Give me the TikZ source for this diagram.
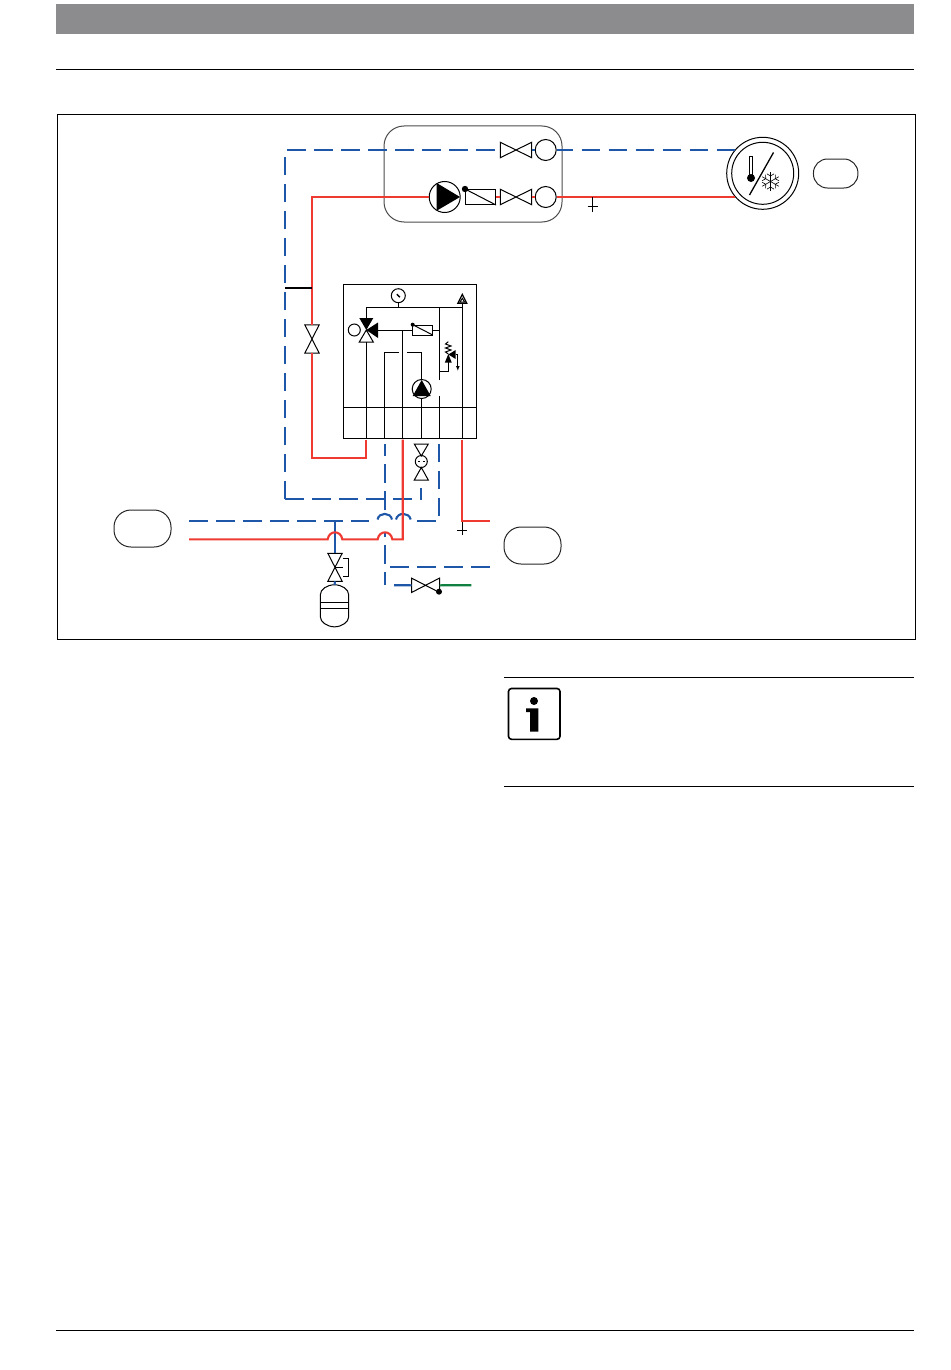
\documentclass[tikz,border=0pt]{standalone}
\usepackage{xcolor}
\usetikzlibrary{arrows.meta,calc}
\definecolor{pipeblue}{HTML}{1F57A8}
\definecolor{pipered}{HTML}{EF3A32}
\definecolor{pipegreen}{HTML}{0F8040}
\definecolor{headgray}{HTML}{8C8C8E}
\tikzset{
  thin line/.style={black,line width=1pt},
  bluepipe/.style={pipeblue,line width=2.1pt},
  bluedash/.style={bluepipe,dash pattern=on 18.5pt off 8.5pt},
  redpipe/.style={pipered,line width=2.1pt},
  roundtag/.style={draw=black!85,line width=1pt,rounded corners=#1,inner sep=0pt},
  ring/.style={circle,draw,line width=1pt,inner sep=0pt,minimum size=#1},
  slot/.style={rectangle,draw,line width=1pt,inner sep=0pt,minimum width=30pt,minimum height=15pt},
  hvalve/.style={rectangle,inner sep=0pt,minimum width=31pt,minimum height=15pt},
  vvalve/.style={rectangle,inner sep=0pt,minimum width=14pt,minimum height=28pt},
}
\begin{document}
\begin{tikzpicture}[x=1pt,y=-1pt]
\useasboundingbox (0,0) rectangle (950,1370);

% Page header and footer
\fill[headgray] (56,4) rectangle (914,34);
\draw[thin line] (56,69.5) -- (914,69.5);
\draw[thin line] (56,1330.5) -- (914,1330.5);
\draw[thin line] (57.5,114.5) rectangle (915.5,639.5);

% Boxes without text
\node[roundtag=14pt,minimum width=44.5pt,minimum height=29pt] (tagthermo) at (835.7,173.5) {};
\node[roundtag=17pt,minimum width=57pt,minimum height=37pt] (tagleft) at (142.5,528.5) {};
\node[roundtag=17pt,minimum width=57pt,minimum height=37pt] (tagright) at (532.5,545.5) {};
\node[draw=black!70,line width=1pt,rounded corners=20pt,inner sep=0pt,minimum width=178pt,minimum height=96pt] (unitbox) at (473,174) {};

% Upper unit
\node[hvalve] (retvalve) at (516,150) {};
\node[hvalve] (flowvalve) at (516,197) {};
\node[ring=21pt] (retring) at (545.7,150) {};
\node[ring=21pt] (flowring) at (545.7,197) {};
\node[ring=31pt] (mainpump) at (444.7,197) {};
\node[slot] (mainflow) at (480.5,197) {};
\fill (436.7,183) -- (460,197) -- (436.7,210.7) -- cycle;
\draw[thin line] (mainflow.north west) -- (mainflow.south east);
\fill (465,189) circle (3.2);

% Thermostat
\node[ring=72pt] (thermo) at (762.7,173.3) {};
\node[ring=62pt] (thermoin) at (762.7,173.3) {};
\draw[line width=1.3pt] (773.5,152.5) -- (749.5,195);
\draw[line width=1.2pt] (749.7,176) -- (749.7,156.5) -- (752.3,156.5) -- (752.3,176);
\fill (751,178) circle (4);
\foreach \a in {90,30,-30} {
  \draw[line width=0.6pt,shift={(770.5,181.5)}] (\a:9.5) -- (\a+180:9.5);
  \draw[line width=0.6pt,shift={(770.5,181.5)}] (\a:5.5) -- (\a+25:8.5) (\a:5.5) -- (\a-25:8.5);
  \draw[line width=0.6pt,shift={(770.5,181.5)}] (\a+180:5.5) -- (\a+205:8.5) (\a+180:5.5) -- (\a+155:8.5);
}

% Valves on the pipes
\node[vvalve] (bypassvalve) at (312,339) {};
\node[vvalve] (fillvalvelow) at (421.3,473.5) {};
\node[ring=12pt,fill=white] (fillcock) at (421.3,461.5) {};
\node[vvalve,minimum height=27.7pt] (vesselvalve) at (335,567.3) {};
\node[hvalve,minimum width=27.6pt,minimum height=14pt] (drainvalve) at (425.5,585.3) {};
\node[inner sep=0pt,minimum width=28.4pt,minimum height=41.7pt] (vessel) at (334.5,605.8) {};
\draw[thin line] (vessel.north) .. controls (342,585) and (348.7,589) .. (348.7,595)
  -- (348.7,616.7) .. controls (348.7,622) and (342,626.7) .. (vessel.south)
  .. controls (327,626.7) and (320.3,622) .. (320.3,616.7)
  -- (320.3,595) .. controls (320.3,589) and (327,585) .. (vessel.north);
\coordinate (vessela) at (320.3,602.7);
\coordinate (vesselb) at (348.7,602.7);
\coordinate (vesselc) at (320.3,608.5);
\coordinate (vesseld) at (348.7,608.5);
\draw[thin line] (vessela) -- (vesselb) (vesselc) -- (vesseld);
\foreach \v in {retvalve,flowvalve,drainvalve} {
  \draw[thin line] (\v.north west) -- (\v.south east) -- (\v.north east) -- (\v.south west) -- cycle;
}
\foreach \v in {bypassvalve,vesselvalve} {
  \draw[thin line] (\v.north west) -- (\v.north east) -- (\v.south west) -- (\v.south east) -- cycle;
}
\draw[thin line] (414.3,444) -- (428.3,444) -- (421.3,456) -- cycle;
\draw[thin line] (414.3,480) -- (428.3,480) -- (421.3,467.5) -- cycle;
\draw[line width=1pt] (418,461.5) -- (420,461.5) (422.6,461.5) -- (424.6,461.5);
\fill (439,591.7) circle (3);
\draw[thin line] (335,567.3) -- (343.3,567.3);
\draw[thin line] (343.3,558.3) -- (348.3,558.3) -- (348.3,576.3) -- (343.3,576.3);

% Heat interface block
\node[draw,line width=1pt,inner sep=0pt,minimum width=132.5pt,minimum height=154.2pt] (block) at (409.75,361.6) {};
\coordinate (blockrail) at (343.5,407.3);
\coordinate (blockrailend) at (476,407.3);
\draw[thin line] (blockrail) -- (blockrailend);
\node[ring=14pt] (gauge) at (398.3,295.7) {};
\draw[line width=1.3pt] (396.8,294.2) -- (399.8,297.2);
\node[ring=12pt] (mixring) at (354.3,330) {};
\node[ring=19pt] (blockpump) at (421.7,389) {};
\node[rectangle,draw,line width=1pt,inner sep=0pt,minimum width=20pt,minimum height=10pt] (blockflow) at (422.7,330) {};
\coordinate (mixmid) at (366.3,330);
\coordinate (toprail) at (366.3,307.3);
\coordinate (ventbase) at (462.3,307.3);
\coordinate (feedtop) at (439.3,307.3);
\coordinate (gaugeroot) at (398.3,307.3);
\coordinate (mixbottom) at (366.3,342);
\coordinate (mixright) at (378,330);
\coordinate (feedjoin) at (402.3,330);
\fill (359.3,318) -- (373.3,318) -- (mixmid) -- cycle;
\fill (378,322.5) -- (378,338) -- (mixmid) -- cycle;
\draw[thin line] (359.3,342) -- (373.3,342) -- (mixmid) -- cycle;
\fill (412.7,324.7) circle (2);
\draw[thin line] (412.7,324.7) -- (432.7,335);
\fill (412.7,396) -- (430.7,396) -- (421.7,380) -- cycle;
\draw[thin line] (gauge) -- (gaugeroot);
\draw[thin line] (toprail) -- (ventbase);
\draw[thin line] (toprail) -- (366.3,318);
\draw[thin line] (mixright) -- (blockflow.west);
\draw[thin line] (blockflow.east) -- (439.3,330);
\draw[thin line] (mixbottom) -- (366.3,439);
\draw[thin line] (feedjoin) -- (402.3,439);
\draw[thin line] (384.3,439) -- (384.3,352.3) -- (399,352.3);
\draw[thin line] (407.3,352.3) -- (421.7,352.3) -- (blockpump.north);
\draw[thin line] (blockpump.south) -- (421.7,439);
\draw[thin line] (feedtop) -- (439.3,380);
\draw[thin line] (439.3,396) -- (439.3,439);
\draw[thin line] (ventbase) -- (462.3,439);
% Vent on top of the rail
\draw[line width=1.2pt] (457.8,303.3) -- (462.3,294.3) -- (466.8,303.3) -- cycle;
\draw[line width=1pt] (460,302) -- (462.3,298.3) -- (464.6,302) -- cycle;
\draw[thin line] (462.3,303.3) -- (ventbase);
% Safety valve
\draw[thin line] (439.3,371) -- (448.3,371) -- (448.3,362);
\fill (444.8,362.7) -- (451.8,362.7) -- (448.3,354) -- cycle;
\fill (455.7,350) -- (455.7,359) -- (448.3,354.5) -- cycle;
\draw[thin line] (448.3,354) -- (445.5,352) -- (451,350) -- (445.5,348) -- (451,346) -- (445.5,344) -- (448.3,341.7);
\draw[thin line,-{Latex[length=5pt,width=4pt]}] (455.7,354.5) -- (457.8,354.5) -- (457.8,371);

% Return pipes
\coordinate (retcorner) at (285,150);
\coordinate (retlow) at (285,499);
\coordinate (retend) at (421.3,499);
\draw[bluedash] (retlow) -- (retcorner) -- (retvalve.west);
\draw[bluedash] (retlow) -- (retend) -- (fillvalvelow.south);
\draw[bluepipe] (retvalve.east) -- (retring.west);
\draw[bluedash,dash phase=2pt] (retring.east) -- (thermo.140 |- retring);

% Flow pipes
\coordinate (flowcorner) at (312,197);
\coordinate (flowlow) at (312,457.8);
\coordinate (flowblock) at (366.3,457.8);
\draw[redpipe] (mainpump.west) -- (flowcorner) -- (bypassvalve.north);
\draw[redpipe] (bypassvalve.south) -- (flowlow) -- (flowblock) -- (366.3,439.5);
\draw[redpipe] (mainflow.east) -- (flowvalve.west);
\draw[redpipe] (flowvalve.east) -- (flowring.west);
\draw[redpipe] (flowring.east) -- (thermo.221 |- flowring);
\draw[black,line width=1.5pt] (285,288) -- (312,288);

% Black tick marks
\draw[thin line] (592.7,197) -- (592.7,211.7) (587.7,206) -- (597.7,206);
\draw[thin line] (462.3,520.7) -- (462.3,535) (457.3,530.7) -- (467.3,530.7);

% Lower pipe runs
\coordinate (mainbl) at (189,521);
\coordinate (mainbr) at (369.3,521);
\coordinate (mainrr) at (417,521);
\coordinate (mainrc) at (439.3,521);
\coordinate (mainrt) at (439.3,444);
\draw[bluedash] (mainbl) -- (mainbr);
\draw[bluedash] (mainrr) -- (mainrc) -- (mainrt);
\draw[bluepipe] (377.5,519.5) .. controls (379,512) and (390.5,512) .. (392,519.5);
\draw[bluepipe] (396,519.5) .. controls (397.5,512) and (409,512) .. (410.7,519.5);
\draw[bluedash,dash phase=7pt] (385,444) -- (385,510);
\draw[bluedash,dash phase=15pt] (385,533) -- (385,585);
\draw[bluedash] (390,566.7) -- (489.5,566.7);
\draw[bluepipe] (394,585.2) -- (drainvalve.west);
\draw[pipegreen,line width=2.1pt] (drainvalve.east) -- (471.3,585.2);
\draw[bluepipe] (335,521) -- (vesselvalve.north);
\draw[bluepipe] (vesselvalve.south) -- (vessel.north);
\draw[redpipe] (189,539.3) -- (327.7,539.3) .. controls (329,530) and (341,530) .. (342.3,539.3)
  -- (377.7,539.3) .. controls (379,530) and (391,530) .. (392.3,539.3)
  -- (402.7,539.3) -- (402.7,439.5);
\draw[redpipe] (462,439.5) -- (462,520.7) -- (489.5,520.7);

% Info icon with its two rules
\draw[thin line] (504,677.5) -- (914,677.5);
\draw[thin line] (504,786.5) -- (914,786.5);
\draw[line width=1.6pt,rounded corners=3pt] (508.5,688.5) rectangle (560,739.3);
\fill (534,701) circle (4);
\fill (526,708.3) -- (538.3,708.3) -- (538.3,731.7) -- (530,731.7) -- (530,712) -- (526,712) -- cycle;
\end{tikzpicture}
\end{document}
